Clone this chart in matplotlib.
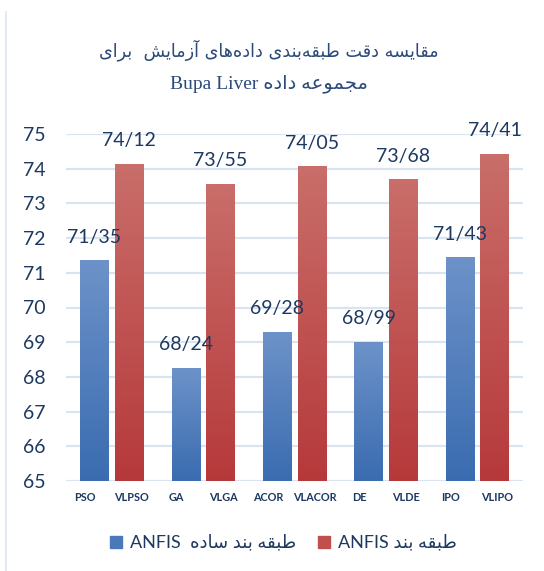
import matplotlib
matplotlib.use("Agg")
import matplotlib.pyplot as plt
import numpy as np
from matplotlib.colors import to_rgb
from matplotlib.patches import Rectangle
from matplotlib.transforms import blended_transform_factory

# data
methods = ["PSO", "GA", "ACOR", "DE", "IPO"]
simple_labels = ["PSO", "GA", "ACOR", "DE", "IPO"]
proposed_labels = ["VLPSO", "VLGA", "VLACOR", "VLDE", "VLIPO"]
simple_acc = [71.35, 68.24, 69.28, 68.99, 71.43]
proposed_acc = [74.12, 73.55, 74.05, 73.68, 74.41]
y_ticks = list(range(65, 76))

title_line1 = "مقایسه دقت طبقه\u200cبندی داده\u200cهای آزمایش  برای"
title_line2_fa = "مجموعه داده"
title_line2_en = "Bupa Liver"
legend_simple_fa = "طبقه بند ساده"
legend_proposed_fa = "طبقه بند"
legend_en = "ANFIS"

# presentation forms: isolated, final, initial, medial
FORMS = {
    "ا": ("\uFE8D", "\uFE8E", None, None),
    "آ": ("\uFE81", "\uFE82", None, None),
    "ب": ("\uFE8F", "\uFE90", "\uFE91", "\uFE92"),
    "ت": ("\uFE95", "\uFE96", "\uFE97", "\uFE98"),
    "ج": ("\uFE9D", "\uFE9E", "\uFE9F", "\uFEA0"),
    "د": ("\uFEA9", "\uFEAA", None, None),
    "ر": ("\uFEAD", "\uFEAE", None, None),
    "ز": ("\uFEAF", "\uFEB0", None, None),
    "س": ("\uFEB1", "\uFEB2", "\uFEB3", "\uFEB4"),
    "ش": ("\uFEB5", "\uFEB6", "\uFEB7", "\uFEB8"),
    "ط": ("\uFEC1", "\uFEC2", "\uFEC3", "\uFEC4"),
    "ع": ("\uFEC9", "\uFECA", "\uFECB", "\uFECC"),
    "ق": ("\uFED5", "\uFED6", "\uFED7", "\uFED8"),
    "م": ("\uFEE1", "\uFEE2", "\uFEE3", "\uFEE4"),
    "ن": ("\uFEE5", "\uFEE6", "\uFEE7", "\uFEE8"),
    "ه": ("\uFEE9", "\uFEEA", "\uFEEB", "\uFEEC"),
    "و": ("\uFEED", "\uFEEE", None, None),
    "\u06CC": ("\uFEEF", "\uFEF0", "\uFEF3", "\uFEF4"),
    "\u064A": ("\uFEEF", "\uFEF0", "\uFEF3", "\uFEF4"),
}


def rtl(text):
    out = []
    for i, ch in enumerate(text):
        if ch not in FORMS:
            out.append(ch)
            continue
        prev = text[i - 1] if i > 0 else None
        nxt = text[i + 1] if i < len(text) - 1 else None
        joins_prev = prev in FORMS and FORMS[prev][2] is not None
        joins_next = FORMS[ch][2] is not None and nxt in FORMS
        iso, fin, ini, med = FORMS[ch]
        if joins_prev and joins_next:
            out.append(med)
        elif joins_prev:
            out.append(fin)
        elif joins_next:
            out.append(ini)
        else:
            out.append(iso)
    shaped = "".join(c for c in out if c != "\u200c")
    return shaped[::-1]


navy = "#1d3861"
title_color = "#2c4a7a"
grid_color = "#dae4f1"
blue_top, blue_bottom = "#6d92c9", "#3a6cb0"
red_top, red_bottom = "#c96e6a", "#b6393a"

fig = plt.figure(figsize=(5.44, 5.71), dpi=100)
ax = fig.add_axes([66 / 544, 1 - 481 / 571, 457 / 544, 347 / 571])

x = np.arange(len(methods))
offset = 0.19
width = 0.31

bars_simple = ax.bar(x - offset, [v - 65 for v in simple_acc], width, bottom=65,
                     color=blue_bottom, zorder=2)
bars_prop = ax.bar(x + offset, [v - 65 for v in proposed_acc], width, bottom=65,
                   color=red_bottom, zorder=2)


def gradient_fill(bars, top, bottom):
    c0 = np.array(to_rgb(bottom))
    c1 = np.array(to_rgb(top))
    t = np.linspace(0, 1, 256)[:, None, None]
    img = c0 + (c1 - c0) * t
    for b in bars:
        x0 = b.get_x()
        ax.imshow(img, extent=[x0, x0 + b.get_width(), b.get_y(), b.get_y() + b.get_height()],
                  origin="lower", aspect="auto", zorder=3, interpolation="bilinear")


gradient_fill(bars_simple, blue_top, blue_bottom)
gradient_fill(bars_prop, red_top, red_bottom)

ax.set_xlim(-0.5, len(methods) - 0.5)
ax.set_ylim(65, 75)
ax.set_yticks(y_ticks)
ax.set_xticks([])
for s in ax.spines.values():
    s.set_visible(False)
for yv in y_ticks:
    ax.axhline(yv, color=grid_color, lw=1.6, zorder=1)
ax.tick_params(axis="y", length=0, pad=15, labelsize=14, labelcolor=navy)
for lab in ax.get_yticklabels():
    lab.set_family("Lato")

# value labels
for xi, v in zip(x - offset, simple_acc):
    ax.annotate(f"{v:.2f}".replace(".", "/"), (xi, v), xytext=(0, 17), textcoords="offset points",
                ha="center", va="center", fontsize=14, color=navy, family="Lato", zorder=4)
for xi, v in zip(x + offset, proposed_acc):
    ax.annotate(f"{v:.2f}".replace(".", "/"), (xi, v), xytext=(0, 17), textcoords="offset points",
                ha="center", va="center", fontsize=14, color=navy, family="Lato", zorder=4)

# category labels
trans = blended_transform_factory(ax.transData, ax.transAxes)
for xi, a, b in zip(x, simple_labels, proposed_labels):
    ax.text(xi - 0.29, -0.048, a, transform=trans, ha="center", va="center",
            fontsize=7.8, fontweight="bold", color=navy, family="Lato")
    ax.text(xi + 0.22, -0.048, b, transform=trans, ha="center", va="center",
            fontsize=7.8, fontweight="bold", color=navy, family="Lato")

# title
fig.text(269 / 544, 1 - 50 / 571, rtl(title_line1), ha="center", va="center",
         fontsize=12.7, color=title_color, family=["DejaVu Sans"])
fig.text(269 / 544, 1 - 84 / 571, title_line2_en + " " + rtl(title_line2_fa), ha="center",
         va="center", fontsize=14, color=title_color, family=["Liberation Serif", "DejaVu Sans"])

# legend
ly = 1 - 542 / 571
fig.patches.append(Rectangle((110 / 544, ly - 6 / 571), 12 / 544, 12 / 571,
                             transform=fig.transFigure, color="#4a79bb"))
fig.text(130 / 544, ly, legend_en + "  " + rtl(legend_simple_fa), ha="left", va="center",
         fontsize=13, color=navy, family=["Lato", "DejaVu Sans"])
fig.patches.append(Rectangle((318 / 544, ly - 6 / 571), 12 / 544, 12 / 571,
                             transform=fig.transFigure, color="#c0504d"))
fig.text(338 / 544, ly, legend_en + " " + rtl(legend_proposed_fa), ha="left", va="center",
         fontsize=13, color=navy, family=["Lato", "DejaVu Sans"])

# chart border on left
fig.add_artist(plt.Line2D([6 / 544, 6 / 544], [0, 1 - 12 / 571], transform=fig.transFigure,
                          color="#dde5f0", lw=1.2))

fig.savefig("out.png", dpi=100)
